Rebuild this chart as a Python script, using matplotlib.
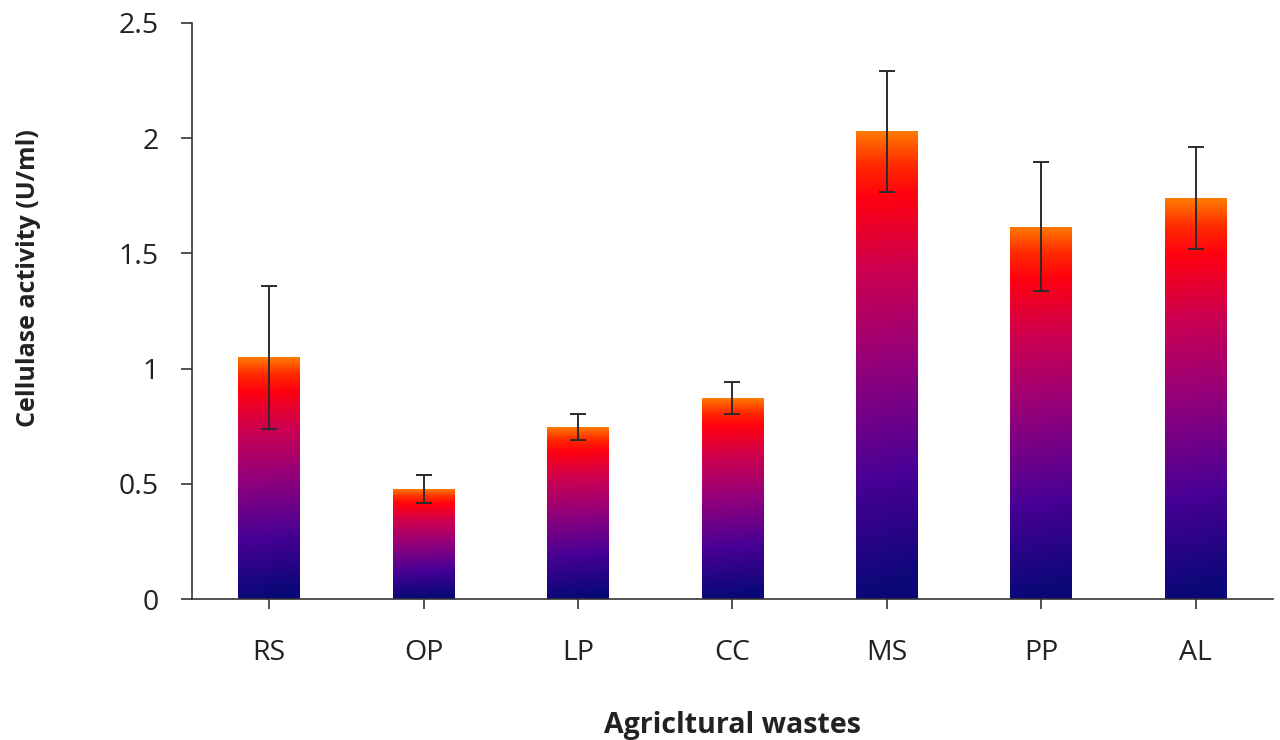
import matplotlib
matplotlib.use("Agg")
import matplotlib.pyplot as plt
from matplotlib.colors import LinearSegmentedColormap
import numpy as np

categories = ["RS", "OP", "LP", "CC", "MS", "PP", "AL"]
activity = [1.05, 0.477, 0.746, 0.872, 2.03, 1.615, 1.74]
errors = [0.31, 0.06, 0.058, 0.068, 0.262, 0.28, 0.22]

plt.rcParams["font.family"] = ["Open Sans", "DejaVu Sans"]

grad_cmap = LinearSegmentedColormap.from_list(
    "bar_grad",
    [
        (0.00, "#0a0878"),
        (0.25, "#4a0095"),
        (0.50, "#95007a"),
        (0.70, "#cc0050"),
        (0.86, "#ff0010"),
        (0.93, "#ff2a00"),
        (1.00, "#ff7a00"),
    ],
)

fig = plt.figure(figsize=(12.8, 7.4), dpi=100)
ax = fig.add_axes([0.15, 0.1905, 0.8445, 0.7785])

x = np.arange(len(categories))
width = 0.4
bars = ax.bar(x, activity, width=width, color="none", edgecolor="none", zorder=2)

# vertical gradient per bar, slightly darker towards the lower right
yy, xx = np.mgrid[0:1:256j, 0:1:32j]
grad = np.clip(yy - 0.04 * xx * (1 - yy), 0, 1)
for bar in bars:
    x0 = bar.get_x()
    h = bar.get_height()
    im = ax.imshow(
        grad,
        extent=[x0, x0 + bar.get_width(), 0, h],
        origin="lower",
        aspect="auto",
        cmap=grad_cmap,
        vmin=0,
        vmax=1,
        zorder=2,
    )
    im.set_clip_path(bar)

ax.errorbar(
    x, activity, yerr=errors, fmt="none", ecolor="#2b2b2b",
    elinewidth=1.4, capsize=6, capthick=1.4, zorder=3,
)

ax.set_xlim(-0.5, len(categories) - 0.5)
ax.set_ylim(0, 2.5)
ax.set_yticks([0, 0.5, 1, 1.5, 2, 2.5])
ax.set_yticklabels(["0", "0.5", "1", "1.5", "2", "2.5"])
ax.set_xticks(x)
ax.set_xticklabels(categories)

ax.tick_params(axis="y", direction="out", length=8, width=1.2, colors="#333333",
               labelsize=20.5, pad=16, labelcolor="#222222")
ax.tick_params(axis="x", direction="out", length=7, width=1.2, colors="#333333",
               labelsize=20.5, pad=22, labelcolor="#222222")

for side in ["top", "right"]:
    ax.spines[side].set_visible(False)
for side in ["left", "bottom"]:
    ax.spines[side].set_color("#333333")
    ax.spines[side].set_linewidth(1.2)

ax.set_ylabel("Cellulase activity (U/ml)", fontsize=18, fontweight="bold",
              color="#222222")
ax.yaxis.set_label_coords(-0.14, 0.557)
ax.set_xlabel("Agricltural wastes", fontsize=20.5, fontweight="bold",
              color="#222222")
ax.xaxis.set_label_coords(0.5, -0.195)

fig.patch.set_facecolor("white")
fig.savefig("out.png", dpi=100)
